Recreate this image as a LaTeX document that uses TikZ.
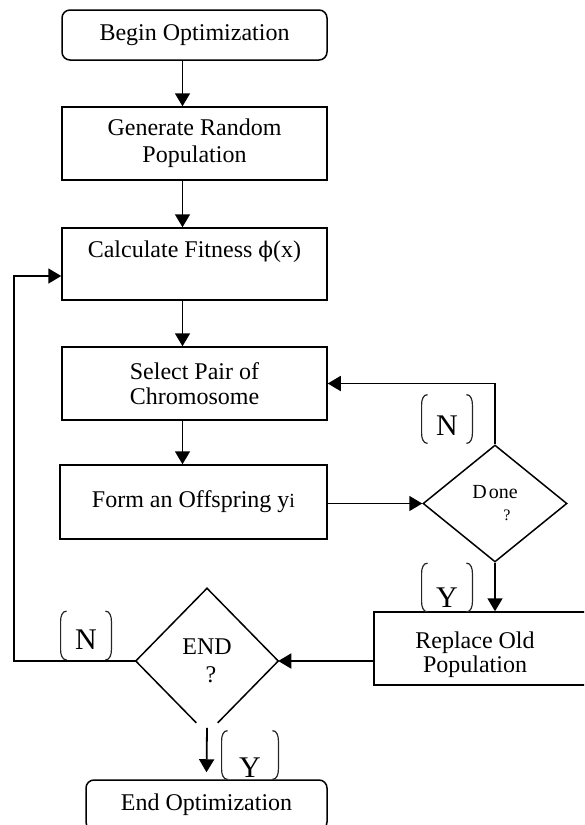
\documentclass[tikz,border=0pt]{standalone}
\usepackage{fontspec}
\setmainfont{Liberation Serif}
\newfontfamily\phifont[Scale=0.9]{DejaVu Serif}
\usetikzlibrary{shapes.geometric,arrows.meta,calc}

\begin{document}
\begin{tikzpicture}[x=0.5pt, y=-0.5pt,
    stepbox/.style={draw, rectangle, line width=0.75pt, minimum width=132.5pt, minimum height=36.5pt, inner sep=1pt, align=center, font=\fontsize{12}{13.5}\selectfont},
    termbox/.style={stepbox, rounded corners=4pt, minimum height=25pt},
    test/.style={draw, diamond, line width=0.75pt, inner sep=0pt, align=center, font=\fontsize{12}{14}\selectfont},
    flow/.style={line width=0.9pt, -{Triangle[length=6.5pt,width=7.5pt]}},
    answer/.style={minimum width=25pt, minimum height=24pt, inner sep=0pt, font=\fontsize{15}{15}\selectfont,
      append after command={\pgfextra{
        \draw[line width=0.6pt, black!85]
          ([xshift=3pt]\tikzlastnode.north west) to[out=180,in=90] ([yshift=-5pt]\tikzlastnode.north west)
          -- ([yshift=5pt]\tikzlastnode.south west) to[out=-90,in=180] ([xshift=3pt]\tikzlastnode.south west)
          ([xshift=-3pt]\tikzlastnode.north east) to[out=0,in=90] ([yshift=-5pt]\tikzlastnode.north east)
          -- ([yshift=5pt]\tikzlastnode.south east) to[out=-90,in=0] ([xshift=-3pt]\tikzlastnode.south east);}}}]
    \clip (0,0) rectangle (584,825);
    \node[termbox] (begin) at (194.5,35) {Begin Optimization};
    \node[stepbox] (gen) at (194.5,143.5) {Generate Random\\Population};
    \node[stepbox, minimum height=36pt] (fit) at (194.5,264) {Calculate Fitness {\phifont ϕ}(x)\\[1pt]\mbox{}};
    \node[stepbox] (sel) at (194.5,383.5) {Select Pair of\\[-1pt]Chromosome};
    \node[stepbox, minimum width=133.5pt, minimum height=37pt] (form) at (193.5,502) {Form an Offspring y{\fontsize{10}{10}\selectfont i}};
    \node[test, minimum width=72pt, minimum height=58.5pt] (done) at (495,503.5)
      {{\fontsize{10}{9}\selectfont D\hspace{1pt}one}\\[-3pt]{\fontsize{8}{8}\selectfont\hspace{12pt}?}};
    \node[stepbox, minimum width=113pt] (repl) at (487,648.5) {};
    \node[font=\fontsize{12}{10}\selectfont, align=center] (repltext) at (475,655) {Replace Old\\Population};
    \node[test, draw=none, minimum width=70.5pt, minimum height=72pt] (endq) at (207,661) {END\\\hspace{4pt}?};
    \draw[line width=0.75pt] ($(endq.south)!0.15!(endq.west)$) -- (endq.west) -- (endq.north)
      -- (endq.east) -- ($(endq.south)!0.15!(endq.east)$);
    \node[termbox, minimum width=120.5pt] (fin) at (206.5,805) {End Optimization};

    \foreach \a/\b in {begin/gen, gen/fit, fit/sel, sel/form}
      \draw[flow] ([xshift=-6pt]\a.south) -- ([xshift=-6pt]\a.south |- \b.north);
    \draw[flow] (form.east |- done.west) -- (done.west);
    \draw[flow] (done.north) |- (sel.east);
    \draw[flow] (done.south) -- (done.south |- repl.north);
    \draw[flow] (repl.west |- endq.east) -- (endq.east);
    \coordinate (back) at (14,661);
    \draw[flow] (endq.west) -- (back) |- ([yshift=-6pt]fit.west);
    \draw[flow] ([yshift=3pt]endq.south) -- ([yshift=3.5pt]fin.north);

    \node[answer] (nsel) at (447,419) {\raisebox{-8pt}[0pt][0pt]{N}};
    \node[answer] (yrep) at (447,587.5) {\raisebox{-10pt}[0pt][0pt]{Y}};
    \node[answer] (nloop) at (86,635.5) {\raisebox{-7pt}[0pt][0pt]{N}};
    \node[answer, minimum width=28pt] (yfin) at (250,755) {\raisebox{-11pt}[0pt][0pt]{Y}};
  \end{tikzpicture}
\end{document}
